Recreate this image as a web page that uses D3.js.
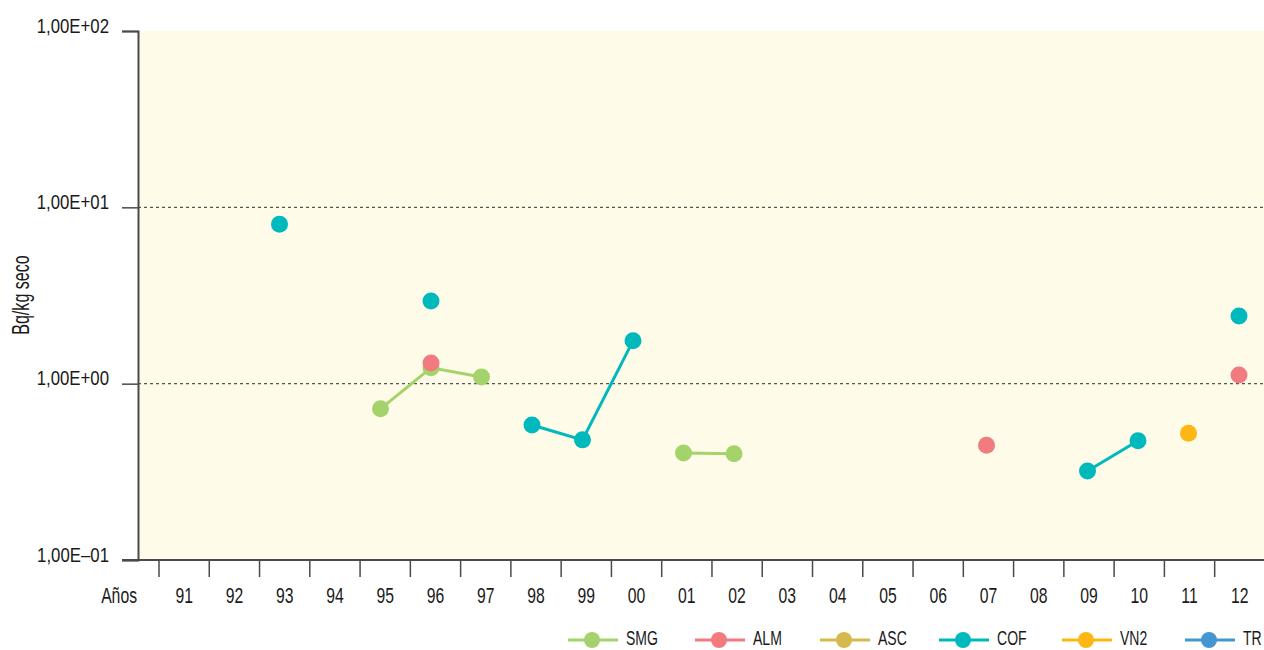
<!DOCTYPE html>
<html>
<head>
<meta charset="utf-8">
<script src="https://cdn.jsdelivr.net/npm/d3@7"></script>
<style>
html,body{margin:0;padding:0;background:#fff;}
svg{display:block;}
text{font-family:"Liberation Sans",Arial,sans-serif;fill:#1a1a1a;}
</style>
</head>
<body>
<svg id="chart" width="1264" height="650"></svg>
<script>
const years = ["91","92","93","94","95","96","97","98","99","00","01","02","03","04","05","06","07","08","09","10","11","12"];
const seriesNames = ["SMG","ALM","ASC","COF","VN2","TR"];
const seriesColors = ["#a4d26b","#f27b80","#d6b94e","#00b9bd","#fdb714","#4595d2"];
const SMG = [null,null,null,null,0.72,1.23,1.09,null,null,null,0.405,0.40,null,null,null,null,null,null,null,null,null,null];
const ALM = [null,null,null,null,null,1.31,null,null,null,null,null,null,null,null,null,null,0.447,null,null,null,null,1.12];
const ASC = [null,null,null,null,null,null,null,null,null,null,null,null,null,null,null,null,null,null,null,null,null,null];
const COF = [null,null,8.02,null,null,2.94,null,0.583,0.48,1.75,null,null,null,null,null,null,null,null,0.32,0.475,null,2.42];
const VN2 = [null,null,null,null,null,null,null,null,null,null,null,null,null,null,null,null,null,null,null,null,0.523,null];
const TR  = [null,null,null,null,null,null,null,null,null,null,null,null,null,null,null,null,null,null,null,null,null,null];
const yTickValues = [100,10,1,0.1];
const yTickLabels = ["1,00E+02","1,00E+01","1,00E+00","1,00E\u201301"];
const yTitle = "Bq/kg seco";
const xTitle = "A\u00f1os";

const seriesData = [SMG,ALM,ASC,COF,VN2,TR];

const svg = d3.select("#chart");
const plotLeft = 138, plotRight = 1264, plotTop = 31, plotBottom = 560;

const y = d3.scaleLog().domain([0.1,100]).range([plotBottom, plotTop]);
const xBand = d3.scaleBand().domain(years).range([159, 159 + 50.27*years.length]).padding(0);
const xPt = d3.scalePoint().domain(years).range([178.5, 178.5 + 50.5*(years.length-1)]);

function ntext(parent, x, yy, str, size, anchor, sx, extra) {
  return parent.append("text")
    .attr("transform", `translate(${x},${yy})${extra||""} scale(${sx},1)`)
    .attr("text-anchor", anchor)
    .attr("font-size", size)
    .text(str);
}

// background
svg.append("rect").attr("x",plotLeft).attr("y",plotTop)
  .attr("width",plotRight-plotLeft).attr("height",plotBottom-plotTop)
  .attr("fill","#fefce8");

// dotted gridlines
svg.selectAll("line.grid").data([10,1]).enter().append("line")
  .attr("x1",plotLeft).attr("x2",plotRight)
  .attr("y1",d=>y(d)).attr("y2",d=>y(d))
  .attr("stroke","#555").attr("stroke-width",1.3).attr("stroke-dasharray","3,3");

// y axis
const yAxis = d3.axisLeft(y).tickValues(yTickValues).tickFormat("").tickSize(16);
const gy = svg.append("g").attr("transform",`translate(${plotLeft},0)`).call(yAxis);
gy.select(".domain").attr("stroke","#4a4a4a").attr("stroke-width",2);
gy.selectAll(".tick line").attr("stroke","#4a4a4a").attr("stroke-width",1.5);
yTickValues.forEach((v,i)=>{
  ntext(svg, 109, y(v)+1.5, yTickLabels[i], 21, "end", 0.8);
});

// x axis baseline
svg.append("line").attr("x1",122).attr("x2",plotRight).attr("y1",plotBottom).attr("y2",plotBottom)
  .attr("stroke","#4a4a4a").attr("stroke-width",2);
// x tick marks at band edges
svg.selectAll("line.xtick").data(years).enter().append("line")
  .attr("x1",d=>xBand(d)).attr("x2",d=>xBand(d))
  .attr("y1",plotBottom).attr("y2",plotBottom+17)
  .attr("stroke","#4a4a4a").attr("stroke-width",1.5);
years.forEach(d=>{
  ntext(svg, xBand(d)+xBand.bandwidth()/2, 603, d, 22.5, "middle", 0.7);
});
ntext(svg, 137, 603, xTitle, 22.5, "end", 0.7);

// y title
ntext(svg, 29, 295, yTitle, 23, "middle", 0.7, " rotate(-90)");

// series
const line = d3.line().defined(d=>d.v!=null).x(d=>xPt(d.year)).y(d=>y(d.v));
seriesData.forEach((arr,si)=>{
  const pts = years.map((yr,i)=>({year:yr,v:arr[i]}));
  svg.append("path").datum(pts).attr("d",line).attr("fill","none")
    .attr("stroke",seriesColors[si]).attr("stroke-width",3);
  svg.selectAll(null).data(pts.filter(p=>p.v!=null)).enter().append("circle")
    .attr("cx",p=>xPt(p.year)).attr("cy",p=>y(p.v)).attr("r",8.5)
    .attr("fill",seriesColors[si]);
});

// legend
const legendX = [592,719,844,963,1086,1209];
seriesNames.forEach((name,i)=>{
  const g = svg.append("g").attr("transform",`translate(${legendX[i]},640)`);
  g.append("line").attr("x1",-24).attr("x2",26).attr("y1",0).attr("y2",0)
    .attr("stroke",seriesColors[i]).attr("stroke-width",3);
  g.append("circle").attr("r",8).attr("fill",seriesColors[i]);
  ntext(g, 34, 5, name, 19.5, "start", 0.72);
});
</script>
</body>
</html>
